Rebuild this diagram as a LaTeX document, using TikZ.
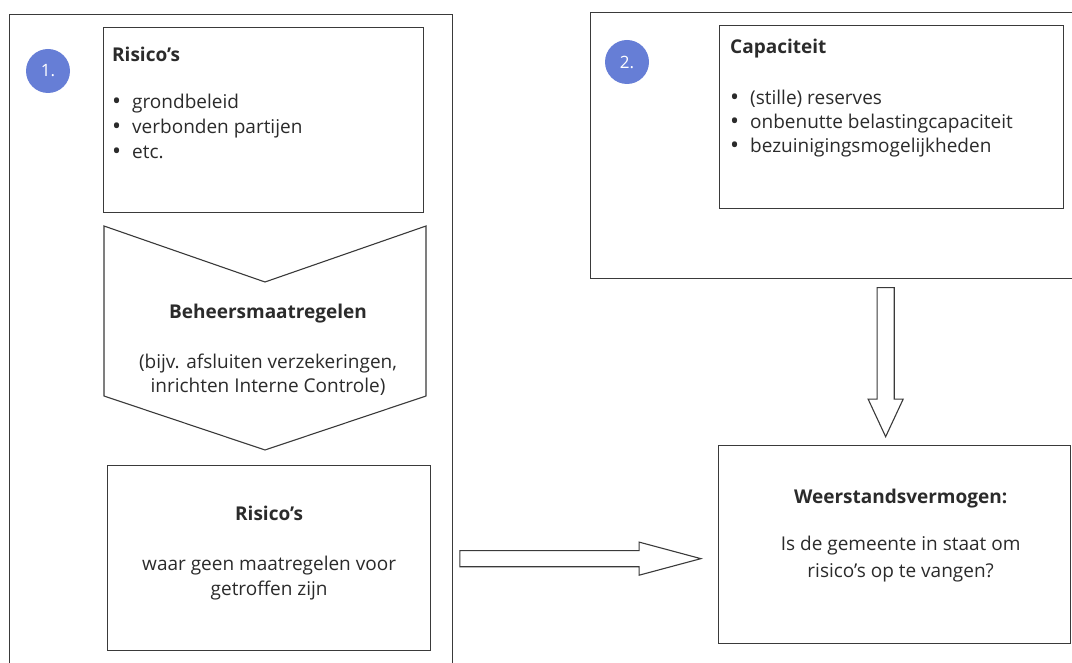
\documentclass[tikz,border=0pt]{standalone}
\usepackage{fontspec}
\setmainfont{Open Sans}
\usetikzlibrary{positioning,shapes.arrows,calc}
\definecolor{lijngrijs}{HTML}{3A3A3A}
\definecolor{tekstgrijs}{HTML}{2B2B2B}
\definecolor{nrblauw}{HTML}{667ED6}
\newcommand{\punt}{\makebox[20pt][l]{\fontsize{24}{24}\selectfont\raisebox{-1pt}{\textbullet}}}
\tikzset{
  kader/.style={rectangle, draw=lijngrijs, line width=1pt, inner sep=0pt},
  blok/.style={rectangle, draw=lijngrijs, line width=1.3pt, fill=white,
    inner sep=0pt},
  nummer/.style={circle, fill=nrblauw, text=white, minimum size=44pt,
    inner sep=0pt, font=\fontsize{17}{17}\selectfont},
  tekst/.style={inner sep=0pt, text=tekstgrijs,
    font=\fontsize{19}{25}\selectfont, align=#1},
  tekst/.default=left,
  chevron/.style={draw=lijngrijs, line width=1.1pt, fill=white},
  blokpijl/.style={single arrow, draw=lijngrijs, line width=1.1pt,
    fill=white, inner xsep=0pt},
}
\begin{document}
\begin{tikzpicture}[x=1pt, y=-1pt]
  \useasboundingbox (0,0) rectangle (1072,663);
  \clip (0,0) rectangle (1072,663);
  % deel 1: risico's
  \node[kader, anchor=north west, minimum width=443, minimum height=700] (kader1) at (9,14) {};
  \node[nummer] at ([xshift=39pt, yshift=-57pt]kader1.north west) (nr1) {1.};
  \node[blok, anchor=north west, minimum width=320, minimum height=185] (risTop) at (103,27) {};
  \node[tekst, anchor=north west] at ([xshift=9pt, yshift=-20pt]risTop.north west) (risTopTxt) {%
    \textbf{Risico's}\\[22pt]
    \punt grondbeleid\\
    \punt verbonden partijen\\
    \punt etc.};
  \draw[chevron] (104,226) -- (265,282) -- (426,226) -- (426,396) -- (265,450) -- (104,396) -- cycle;
  \node[tekst=center, anchor=north] at (268,304) (beheer) {%
    \textbf{Beheersmaatregelen}\\[25pt]
    (bijv. afsluiten verzekeringen,\\[-1pt]
    inrichten Interne Controle)};
  \node[blok, anchor=north west, minimum width=323, minimum height=185] (risBot) at (107,465) {};
  \node[tekst=center, anchor=north] at ([yshift=-41pt]risBot.north) (risBotTxt) {%
    \textbf{Risico's}\\[25pt]
    waar geen maatregelen voor\\
    getroffen zijn};
  % deel 2: capaciteit
  \node[kader, anchor=north west, minimum width=490, minimum height=266] (kader2) at (590,12) {};
  \node[nummer] at ([xshift=37pt, yshift=-50pt]kader2.north west) (nr2) {2.};
  \node[blok, anchor=north west, minimum width=344, minimum height=183] (capBox) at (719,25) {};
  \node[tekst, anchor=north west] at ([xshift=11pt, yshift=-14pt]capBox.north west) (capTxt) {%
    \textbf{Capaciteit}\\[26pt]
    \punt (stille) reserves\\[-1pt]
    \punt onbenutte belastingcapaciteit\\[-1pt]
    \punt bezuinigingsmogelijkheden};
  % weerstandsvermogen
  \node[blok, anchor=north west, minimum width=352, minimum height=198] (weerstand) at (718,445) {};
  \node[tekst=center, anchor=north] at ([xshift=6pt, yshift=-44pt]weerstand.north) (weerTxt) {%
    \textbf{Weerstandsvermogen:}\\[22pt]
    Is de gemeente in staat om\\[2pt]
    risico's op te vangen?};
  % pijlen
  \node[blokpijl, minimum height=241, inner ysep=7.5pt, single arrow head extend=8.5pt,
    single arrow tip angle=30, anchor=tip]
    at ([xshift=-15pt, yshift=-14pt]weerstand.west) (pijlRis) {};
  \node[blokpijl, rotate=-90, minimum height=149, inner ysep=8pt, single arrow head extend=9pt,
    single arrow tip angle=50, anchor=tip]
    at ([xshift=-9pt, yshift=7pt]weerstand.north) (pijlCap) {};
\end{tikzpicture}
\end{document}
